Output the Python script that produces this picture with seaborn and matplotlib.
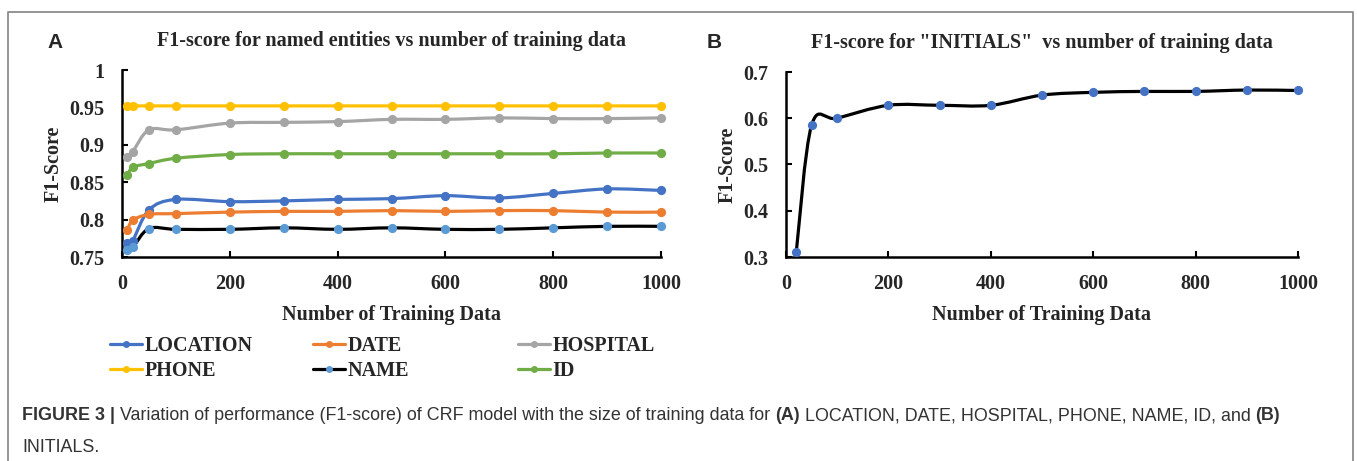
import matplotlib
matplotlib.use("Agg")
import matplotlib.pyplot as plt
from matplotlib.path import Path
from matplotlib.patches import PathPatch
from matplotlib.lines import Line2D
from matplotlib.ticker import FuncFormatter
import numpy as np
import seaborn as sns

# ---- data ----
train_sizes = [10, 20, 50, 100, 200, 300, 400, 500, 600, 700, 800, 900, 1000]
location = [0.769, 0.772, 0.813, 0.827, 0.824, 0.825, 0.827, 0.828, 0.832, 0.829, 0.835, 0.841, 0.839]
date = [0.786, 0.799, 0.807, 0.808, 0.810, 0.811, 0.811, 0.812, 0.811, 0.812, 0.812, 0.810, 0.810]
hospital = [0.884, 0.891, 0.920, 0.920, 0.929, 0.930, 0.931, 0.934, 0.934, 0.936, 0.935, 0.935, 0.936]
phone = [0.952, 0.952, 0.952, 0.952, 0.952, 0.952, 0.952, 0.952, 0.952, 0.952, 0.952, 0.952, 0.952]
name = [0.759, 0.763, 0.788, 0.787, 0.787, 0.789, 0.787, 0.789, 0.787, 0.787, 0.789, 0.791, 0.791]
ids = [0.859, 0.870, 0.875, 0.882, 0.887, 0.888, 0.888, 0.888, 0.888, 0.888, 0.888, 0.889, 0.889]

initials_sizes = [20, 50, 100, 200, 300, 400, 500, 600, 700, 800, 900, 1000]
initials = [0.310, 0.585, 0.600, 0.628, 0.628, 0.628, 0.650, 0.656, 0.658, 0.658, 0.661, 0.660]

entities = ["LOCATION", "DATE", "HOSPITAL", "PHONE", "NAME", "ID"]
entity_values = [location, date, hospital, phone, name, ids]
line_colors = ["#4472C4", "#ED7D31", "#A5A5A5", "#FFC000", "#000000", "#70AD47"]
marker_colors = ["#4472C4", "#ED7D31", "#A5A5A5", "#FFC000", "#5B9BD5", "#70AD47"]

sns.set_style("white")
plt.rcParams["font.family"] = ["Liberation Serif", "DejaVu Serif"]
plt.rcParams["axes.linewidth"] = 1.8

W, H = 1357, 461


def smooth_path(xs, ys):
    # excel-like smoothed line (catmull-rom as cubic bezier)
    pts = np.column_stack([xs, ys]).astype(float)
    n = len(pts)
    verts = [pts[0]]
    codes = [Path.MOVETO]
    for i in range(n - 1):
        p0 = pts[max(i - 1, 0)]
        p1 = pts[i]
        p2 = pts[i + 1]
        p3 = pts[min(i + 2, n - 1)]
        verts += [p1 + (p2 - p0) / 6, p2 - (p3 - p1) / 6, p2]
        codes += [Path.CURVE4] * 3
    return Path(verts, codes)


def draw_series(ax, xs, ys, lc, mc):
    ax.add_patch(PathPatch(smooth_path(xs, ys), facecolor="none", edgecolor=lc,
                           lw=2.3, capstyle="round", joinstyle="round", zorder=2))
    sns.scatterplot(x=xs, y=ys, color=mc, s=44, linewidth=0, ax=ax,
                    zorder=3, clip_on=False, legend=False)


def style_axes(ax, title, ylim, yticks):
    ax.set_xlim(0, 1000)
    ax.set_ylim(*ylim)
    ax.set_xticks(range(0, 1001, 200))
    ax.set_yticks(yticks)
    ax.yaxis.set_major_formatter(FuncFormatter(lambda v, p: "%g" % round(v, 2)))
    sns.despine(ax=ax)
    for s in ["left", "bottom"]:
        ax.spines[s].set_color("black")
    ax.tick_params(direction="in", length=4, width=1.5, color="black",
                   labelsize=14.5, left=True, bottom=True)
    ax.tick_params(axis="x", pad=12)
    ax.tick_params(axis="y", pad=13)
    plt.setp(ax.get_xticklabels() + ax.get_yticklabels(), fontweight="bold")
    ax.set_xlabel("Number of Training Data", fontsize=14.5, fontweight="bold", labelpad=8)
    ax.set_ylabel("F1-Score", fontsize=14.5, fontweight="bold", labelpad=4)
    ax.set_title(title, fontsize=14.5, fontweight="bold", pad=17)


fig = plt.figure(figsize=(W / 100, H / 100), dpi=100)

# outer frame of the figure panel
frame = Line2D([8 / W, 8 / W, 1353 / W, 1353 / W],
               [0, 1 - 12 / H, 1 - 12 / H, 0],
               transform=fig.transFigure, color="#8c8c8c", lw=1.3)
fig.add_artist(frame)

axA = fig.add_axes([122 / W, 1 - 257 / H, 539 / W, 187 / H])
for lab, vals, lc, mc in zip(entities, entity_values, line_colors, marker_colors):
    draw_series(axA, train_sizes, vals, lc, mc)
style_axes(axA, "F1-score for named entities vs number of training data",
           (0.75, 1.0), [0.75, 0.8, 0.85, 0.9, 0.95, 1.0])

axB = fig.add_axes([786 / W, 1 - 257 / H, 512 / W, 185 / H])
draw_series(axB, initials_sizes, initials, "#000000", "#4472C4")
style_axes(axB, 'F1-score for "INITIALS"  vs number of training data',
           (0.3, 0.7), [0.3, 0.4, 0.5, 0.6, 0.7])

fig.text(47 / W, 1 - 42 / H, "A", family="Liberation Sans", fontweight="bold",
         fontsize=15, va="center", ha="left")
fig.text(707 / W, 1 - 42 / H, "B", family="Liberation Sans", fontweight="bold",
         fontsize=15, va="center", ha="left")

# legend: three fixed-width columns like the excel legend
col_x = [110, 313, 518]
for c in range(3):
    handles = []
    labels = []
    for r in range(2):
        k = r * 3 + c
        handles.append(Line2D([], [], color=line_colors[k], lw=2.3, marker="o",
                              markersize=5, markerfacecolor=marker_colors[k],
                              markeredgewidth=0))
        labels.append(entities[k])
    fig.legend(handles, labels, loc="upper left",
               bbox_to_anchor=(col_x[c] / W, 1 - 336 / H),
               frameon=False, handlelength=1.6, handletextpad=0.1,
               labelspacing=0.25, borderpad=0, borderaxespad=0,
               prop={"family": "Liberation Serif", "weight": "bold", "size": 14.5})

# caption with bold runs
cap_kw = dict(family="Liberation Sans", fontsize=12.9, color="#333333", va="bottom")
runs = [("FIGURE 3 | ", "bold"),
        ("Variation of performance (F1-score) of CRF model with the size of training data for ", "normal"),
        ("(A)", "bold"),
        (" LOCATION, DATE, HOSPITAL, PHONE, NAME, ID, and ", "normal"),
        ("(B)", "bold")]
prev = fig.text(22 / W, 1 - 424 / H, runs[0][0], fontweight=runs[0][1], **cap_kw)
for txt, w in runs[1:]:
    prev = fig.add_artist(matplotlib.text.Annotation(
        txt, xy=(1, 0), xycoords=prev, fontweight=w, annotation_clip=False, **cap_kw))
fig.text(22 / W, 1 - 456 / H, "INITIALS.", fontweight="normal", **cap_kw)

fig.savefig("out.png", dpi=100)
